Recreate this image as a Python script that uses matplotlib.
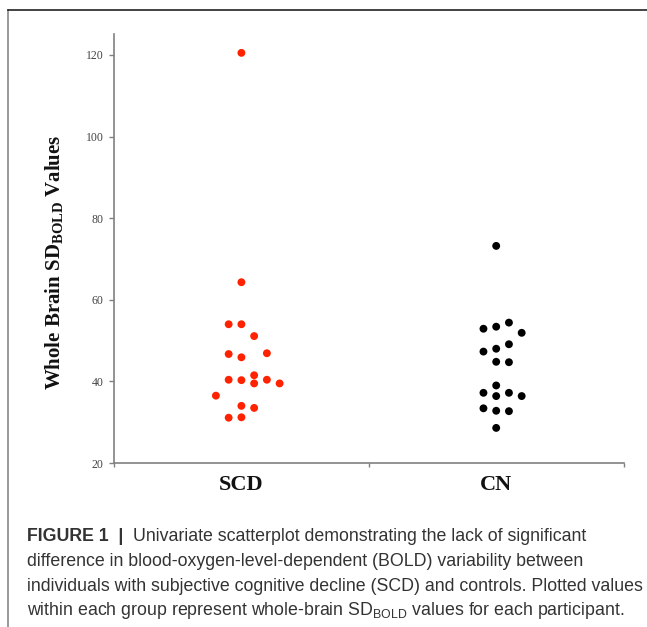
import numpy as np
import matplotlib
matplotlib.use("Agg")
import matplotlib.pyplot as plt
from matplotlib.lines import Line2D

# Whole-brain SD_BOLD values
scd_values = [120.5, 64.3, 54.0, 54.0, 51.1, 46.7, 45.9, 46.9, 40.4, 40.3,
              41.5, 39.5, 40.4, 39.5, 36.5, 34.0, 33.5, 31.1, 31.2]
# dot column within the group (jitter used in the original plot)
scd_col = [0, 0, -1, 0, 1, -1, 0, 2, -1, 0, 1, 1, 2, 3, -2, 0, 1, -1, 0]

cn_values = [73.2, 52.9, 53.4, 54.4, 51.9, 47.3, 48.0, 49.1, 44.8, 44.7,
             39.0, 37.2, 36.4, 37.2, 36.4, 33.4, 32.8, 32.7, 28.6]
cn_col = [0, -1, 0, 1, 2, -1, 0, 1, 0, 1, 0, -1, 0, 1, 2, -1, 0, 1, 0]

groups = ["SCD", "CN"]
yticks = [20, 40, 60, 80, 100, 120]

plt.rcParams["mathtext.fontset"] = "custom"
plt.rcParams["mathtext.rm"] = "Liberation Serif"
plt.rcParams["mathtext.bf"] = "Liberation Serif:bold"
plt.rcParams["mathtext.sf"] = "Liberation Sans"

W, H = 647, 627
fig = plt.figure(figsize=(W / 100, H / 100), dpi=100)
ax = fig.add_axes([114 / W, 1 - 463 / H, (623.6 - 114) / W, (463 - 34.5) / H])

step = 0.05
ax.scatter(1 + np.array(scd_col) * step, scd_values, s=32, color="#ff2200",
           edgecolors="none", zorder=3)
ax.scatter(2 + np.array(cn_col) * step, cn_values, s=32, color="black",
           edgecolors="none", zorder=3)

ax.set_xlim(0.5, 2.5)
ax.set_ylim(20, 125)
ax.set_yticks(yticks)
ax.set_yticklabels([str(v) for v in yticks], family="Liberation Serif",
                   fontsize=8.5, color="#444444")
ax.set_xticks([1, 2])
ax.set_xticklabels(groups, family="Liberation Serif", fontsize=16,
                   fontweight="bold", color="#111111")
ax.set_xticks([0.5, 1.5, 2.5], minor=True)
ax.tick_params(axis="x", which="major", length=0, pad=9)
ax.tick_params(axis="x", which="minor", length=3, color="#808080", width=1)
ax.tick_params(axis="y", length=3.5, color="#808080", width=1, pad=4)

for s in ["top", "right"]:
    ax.spines[s].set_visible(False)
for s in ["left", "bottom"]:
    ax.spines[s].set_color("#808080")
    ax.spines[s].set_linewidth(1.2)

fig.text(55 / W, 1 - 262 / H, r"Whole Brain SD$_{\mathbf{BOLD}}$ Values",
         rotation=90, ha="center", va="center", family="Liberation Serif",
         fontsize=15, fontweight="bold", color="#111111")

# frame of the figure panel
fig.add_artist(Line2D([8 / W, 8 / W], [0, 1 - 10 / H], transform=fig.transFigure,
                      color="#888888", lw=1.2))
fig.add_artist(Line2D([8 / W, 1], [1 - 10 / H, 1 - 10 / H], transform=fig.transFigure,
                      color="#222222", lw=1.2))

# caption
cap_color = "#333333"
cap_size = 12.8
x0 = 27 / W
base = [541, 566, 591, 615]
t = fig.text(x0, 1 - base[0] / H, "FIGURE 1  |  ", family="Liberation Sans",
             fontsize=cap_size, fontweight="bold", color=cap_color, va="baseline")
fig.canvas.draw()
bb = t.get_window_extent()
fig.text(bb.x1 / W, 1 - base[0] / H,
         "Univariate scatterplot demonstrating the lack of significant",
         family="Liberation Sans", fontsize=cap_size, color=cap_color, va="baseline")
lines = [
    "difference in blood-oxygen-level-dependent (BOLD) variability between",
    "individuals with subjective cognitive decline (SCD) and controls. Plotted values",
    r"within each group represent whole-brain SD$_{\mathsf{BOLD}}$ values for each participant.",
]
for y, txt in zip(base[1:], lines):
    fig.text(x0, 1 - y / H, txt, family="Liberation Sans", fontsize=cap_size,
             color=cap_color, va="baseline")

fig.savefig("out.png", dpi=100)
